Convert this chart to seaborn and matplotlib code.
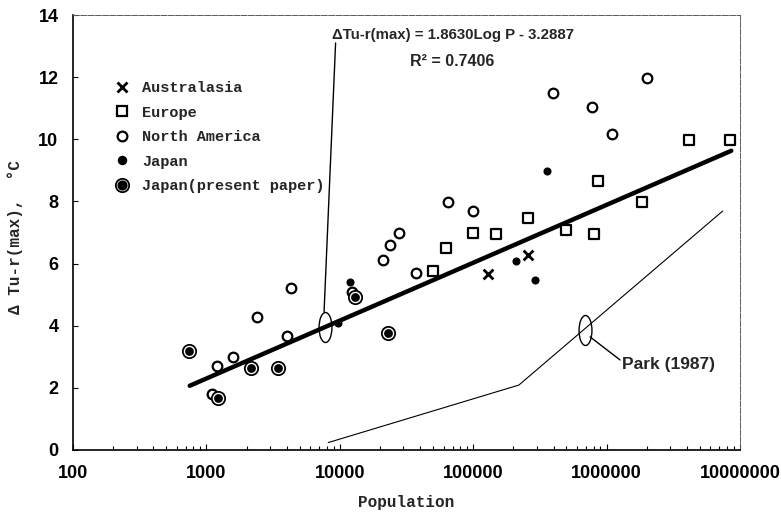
import matplotlib
matplotlib.use('Agg')
import numpy as np
import matplotlib.pyplot as plt
import seaborn as sns
from matplotlib.lines import Line2D
from matplotlib.path import Path
from matplotlib.transforms import Affine2D
from matplotlib.legend_handler import HandlerTuple
from matplotlib.ticker import LogLocator, NullFormatter


# values
aus_pop = [130000, 256000]
aus_dt = [5.66, 6.28]

eur_pop = [49700, 62500, 99000, 148000, 256000, 493000, 808000, 857000, 1850000, 4170000, 8410000]
eur_dt = [5.77, 6.49, 6.97, 6.96, 7.48, 7.08, 6.95, 8.67, 7.97, 9.98, 9.98]

na_pop = [1100, 1200, 1580, 2390, 4020, 4300, 12300, 20980, 23800, 27900, 37100,
          65200, 99800, 396000, 773000, 1090000, 2000000]
na_dt = [1.80, 2.70, 2.99, 4.28, 3.67, 5.21, 5.09, 6.10, 6.60, 6.99, 5.69,
         7.98, 7.68, 11.49, 11.05, 10.17, 11.96]

jp_pop = [9680, 11900, 208000, 293000, 360000]
jp_dt = [4.09, 5.41, 6.07, 5.46, 8.97]

jpp_pop = [741, 1220, 2160, 3440, 13000, 22950]
jpp_dt = [3.19, 1.67, 2.64, 2.64, 4.92, 3.77]

# regression line from the equation printed on the chart
reg_a, reg_b = 1.8630, -3.2887
reg_pop = [750, 8600000]

park_pop = [8200, 220000, 7410000]
park_dt = [0.24, 2.09, 7.69]

x_ticks = [100, 1000, 10000, 100000, 1000000, 10000000]
y_ticks = [0, 2, 4, 6, 8, 10, 12, 14]

sns.set_style('ticks')
plt.rcParams['font.family'] = ['Liberation Sans', 'DejaVu Sans']
mono = ['Liberation Mono', 'DejaVu Sans Mono']

fig = plt.figure(figsize=(7.81, 5.16), dpi=100)
ax = fig.add_axes([73/781, 1 - 450/516, 667/781, 435/516])
ax.set_xscale('log')

# regression line
reg_dt = [reg_a * np.log10(p) + reg_b for p in reg_pop]
sns.lineplot(x=reg_pop, y=reg_dt, ax=ax, color='black', linewidth=3.2, zorder=2)

# Park (1987)
sns.lineplot(x=park_pop, y=park_dt, ax=ax, color='black', linewidth=0.8, zorder=2)

# markers
sns.scatterplot(x=aus_pop, y=aus_dt, ax=ax, marker='x', s=50, color='black', linewidth=2, zorder=3)
sns.scatterplot(x=eur_pop, y=eur_dt, ax=ax, marker='s', s=58, color='white', edgecolor='black', linewidth=1.6, zorder=3)
sns.scatterplot(x=na_pop, y=na_dt, ax=ax, marker='o', s=48, color='white', edgecolor='black', linewidth=1.6, zorder=3)
sns.scatterplot(x=jp_pop, y=jp_dt, ax=ax, marker='o', s=34, color='black', edgecolor='black', linewidth=0, zorder=4)
sns.scatterplot(x=jpp_pop, y=jpp_dt, ax=ax, marker='o', s=92, color='white', edgecolor='black', linewidth=1.3, zorder=4)
sns.scatterplot(x=jpp_pop, y=jpp_dt, ax=ax, marker='o', s=40, color='black', edgecolor='black', linewidth=0, zorder=5)

# ellipse callouts and leader lines
ell = Path.unit_circle().transformed(Affine2D().scale(0.43, 1.0))
ax.plot([7740, 690000], [3.97, 3.86], ls='none', marker=ell, ms=21.6, mfc='none', mec='black', mew=1.0, zorder=5)
ax.plot([7620, 9300], [4.44, 13.1], color='black', lw=1.0)
ax.plot([752000, 1260000], [3.64, 2.90], color='black', lw=1.0)

ax.text(70600, 13.36, 'ΔTu-r(max) = 1.8630Log P - 3.2887', ha='center', va='center',
        fontsize=10.8, fontweight='bold')
ax.text(69400, 12.49, 'R² = 0.7406', ha='center', va='center', fontsize=11.5, fontweight='bold')
ax.text(1300000, 2.74, 'Park (1987)', ha='left', va='center', fontsize=12.5, fontweight='bold')

# legend
handles = [
    Line2D([], [], marker='x', ls='none', color='black', ms=7, mew=2),
    Line2D([], [], marker='s', ls='none', mfc='white', mec='black', ms=7.6, mew=1.6),
    Line2D([], [], marker='o', ls='none', mfc='white', mec='black', ms=7, mew=1.6),
    Line2D([], [], marker='o', ls='none', color='black', ms=5.8),
    (Line2D([], [], marker='o', ls='none', mfc='white', mec='black', ms=9.6, mew=1.3),
     Line2D([], [], marker='o', ls='none', color='black', ms=6.3)),
]
labels = ['Australasia', 'Europe', 'North America', 'Japan', 'Japan(present paper)']
ax.legend(handles, labels, handler_map={tuple: HandlerTuple(ndivide=1)},
          loc='upper left', bbox_to_anchor=(0.062, 0.848), borderaxespad=0, borderpad=0,
          frameon=False, handlelength=1.0, handletextpad=0.8, labelspacing=0.69,
          prop={'family': mono, 'size': 11, 'weight': 'bold'})

# axes
ax.set_xlim(100, 10000000)
ax.set_ylim(0, 14)
ax.set_xticks(x_ticks)
ax.set_xticklabels([str(t) for t in x_ticks])
ax.xaxis.set_minor_locator(LogLocator(base=10, subs=range(2, 10), numticks=20))
ax.xaxis.set_minor_formatter(NullFormatter())
ax.set_yticks(y_ticks)
ax.set_yticklabels([str(t) for t in y_ticks])
ax.tick_params(axis='both', which='both', direction='in', top=False, right=False,
               labelsize=13, width=0.8, colors='black')
ax.tick_params(axis='x', which='major', length=4, pad=11)
ax.tick_params(axis='x', which='minor', length=3)
ax.tick_params(axis='y', which='major', length=3.5, pad=10.5)
for lab in ax.get_xticklabels() + ax.get_yticklabels():
    lab.set_fontweight('bold')

for s in ['left', 'bottom']:
    ax.spines[s].set_linewidth(1.2)
    ax.spines[s].set_color('black')
for s in ['top', 'right']:
    ax.spines[s].set_linewidth(0.7)
    ax.spines[s].set_color('0.35')
    ax.spines[s].set_linestyle((0, (6, 1.5)))

ax.set_xlabel('Population', fontsize=11.5, fontweight='bold', family=mono)
ax.set_ylabel('Δ Tu-r(max),  °C', fontsize=11.5, fontweight='bold', family=mono)
ax.xaxis.set_label_coords(0.5, -0.103)
ax.yaxis.set_label_coords(-0.075, 0.49)

fig.savefig('out.png', dpi=100)
